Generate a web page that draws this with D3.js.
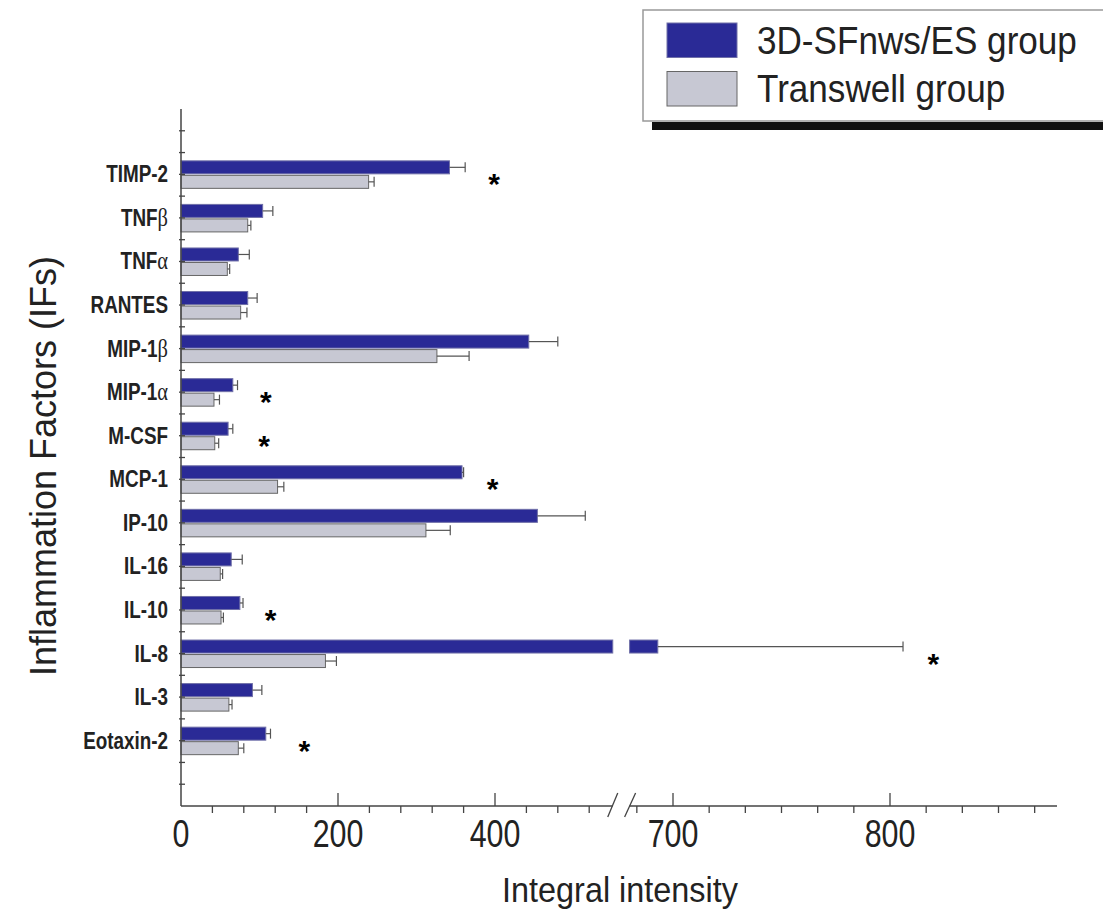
<!DOCTYPE html>
<html>
<head>
<meta charset="utf-8">
<script src="https://cdn.jsdelivr.net/npm/d3@7"></script>
<style>
  body { margin: 0; background: #fff; }
  svg { display: block; }
  .axis-line { stroke: #444; stroke-width: 1.5; fill: none; }
  .tick-mark { stroke: #444; stroke-width: 1.3; }
  .err { stroke: #555; stroke-width: 1.2; fill: none; }
</style>
</head>
<body>
<svg id="chart" width="1103" height="910"></svg>
<script>
var categories = ["TIMP-2", "TNFβ", "TNFα", "RANTES", "MIP-1β", "MIP-1α", "M-CSF",
  "MCP-1", "IP-10", "IL-16", "IL-10", "IL-8", "IL-3", "Eotaxin-2"];
var seriesNames = ["3D-SFnws/ES group", "Transwell group"];
var sfValues = [342, 104, 73, 85, 443, 66, 60, 358, 454, 64, 75, 693, 91, 108];
var sfErrors = [20, 13, 14, 12, 37, 6, 6, 2, 61, 14, 4, 113, 12, 6];
var twValues = [239, 85, 59, 76, 326, 42, 43, 123, 312, 50, 51, 184, 61, 73];
var twErrors = [7, 4, 3, 8, 41, 7, 5, 8, 31, 3, 3, 14, 4, 7];
var starCategories = ["TIMP-2", "MIP-1α", "M-CSF", "MCP-1", "IL-10", "IL-8", "Eotaxin-2"];
var starValues = [399, 108, 106, 397, 114, 820, 157];
var leftTicks = [0, 200, 400];
var rightTicks = [700, 800];

var colors = { sf: "#2a2a96", sfStroke: "#7070a8", tw: "#c7c8d3", twStroke: "#666" };
var sans = "'Liberation Sans', Arial, sans-serif";

// broken x axis: two linear pieces
var breakLeft = 550, breakRight = 680;
var xL = d3.scaleLinear().domain([0, 400]).range([181, 495]);
var xR = d3.scaleLinear().domain([700, 800]).range([673, 890]);
function xpos(v) { return v <= breakLeft ? xL(v) : xR(v); }

var axisY = 806, axisTop = 109, axisEndX = 1057;
var y = d3.scalePoint().domain(categories).range([axisTop, axisY]).padding(1.5);
var barH = 13;

var svg = d3.select("#chart");
var g = svg.append("g");

// condensed text: translate then squeeze horizontally
function squeezed(parent, x, yy, sx) {
  return parent.append("text")
    .attr("transform", "translate(" + x + "," + yy + ") scale(" + sx + ",1)");
}

// bars (with break on long ones)
function drawBars(values, errors, cls, fill, stroke, offset) {
  var sel = g.append("g").attr("class", cls);
  values.forEach(function(v, i) {
    var cy = y(categories[i]) + offset;
    var pieces = v > breakLeft ? [[0, breakLeft, xL], [breakRight, v, xR]] : [[0, v, xL]];
    pieces.forEach(function(p) {
      sel.append("rect")
        .attr("x", p[2](p[0]))
        .attr("y", cy)
        .attr("width", p[2](p[1]) - p[2](p[0]))
        .attr("height", barH)
        .attr("fill", fill)
        .attr("stroke", stroke)
        .attr("stroke-width", 1);
    });
    var x0 = xpos(v), x1 = xpos(v + errors[i]);
    var ym = cy + barH / 2;
    sel.append("line").attr("class", "err")
      .attr("x1", x0).attr("x2", x1).attr("y1", ym).attr("y2", ym);
    sel.append("line").attr("class", "err")
      .attr("x1", x1).attr("x2", x1).attr("y1", ym - 5).attr("y2", ym + 5);
  });
}
drawBars(sfValues, sfErrors, "sf", colors.sf, colors.sfStroke, -13.5);
drawBars(twValues, twErrors, "tw", colors.tw, colors.twStroke, 1);

// y axis
g.append("line").attr("class", "axis-line")
  .attr("x1", 181).attr("x2", 181).attr("y1", axisTop).attr("y2", axisY);
var halfStep = y.step() / 2;
d3.range(axisTop + halfStep, axisY - 1, halfStep).forEach(function(t) {
  g.append("line").attr("class", "tick-mark")
    .attr("x1", 179).attr("x2", 185).attr("y1", t).attr("y2", t);
});

// category labels, greek suffix set in serif
categories.forEach(function(c) {
  var m = c.match(/^(.*?)([α-ω]?)$/);
  var t = squeezed(g, 168, y(c) + 8, 0.82)
    .attr("text-anchor", "end")
    .style("font-family", sans)
    .style("font-weight", "bold")
    .style("font-size", "23px")
    .attr("fill", "#222");
  t.append("tspan").text(m[1]);
  if (m[2]) {
    t.append("tspan")
      .style("font-family", "'Liberation Serif', 'DejaVu Serif', serif")
      .style("font-weight", "normal")
      .style("font-size", "25px")
      .text(m[2]);
  }
});

// x axis pieces
var xa = g.append("g");
xa.append("line").attr("class", "axis-line")
  .attr("x1", 181).attr("x2", xL(breakLeft)).attr("y1", axisY).attr("y2", axisY);
xa.append("line").attr("class", "axis-line")
  .attr("x1", xR(breakRight)).attr("x2", axisEndX).attr("y1", axisY).attr("y2", axisY);
// break marks
[[xL(breakLeft) - 5, xL(breakLeft) + 5], [xR(breakRight) - 5, xR(breakRight) + 6]].forEach(function(s) {
  xa.append("line").attr("class", "tick-mark")
    .attr("x1", s[0]).attr("y1", axisY + 11).attr("x2", s[1]).attr("y2", axisY - 13);
});

var minorLeft = d3.range(40, 540, 40).filter(function(v) { return v % 200 !== 0; });
var minorRight = d3.range(-1, 11).map(function(k) { return 700 + k * 100 / 6; })
  .filter(function(v) { return v > breakRight && v < 875 && Math.abs(v - 700) > 1 && Math.abs(v - 800) > 1; });
minorLeft.map(xL).concat(minorRight.map(xR)).forEach(function(px) {
  xa.append("line").attr("class", "tick-mark")
    .attr("x1", px).attr("x2", px).attr("y1", axisY).attr("y2", axisY + 7);
});
leftTicks.filter(function(v) { return v > 0; }).map(xL)
  .concat(rightTicks.map(xR)).forEach(function(px) {
    xa.append("line").attr("class", "tick-mark")
      .attr("x1", px).attr("x2", px).attr("y1", axisY).attr("y2", axisY - 13);
  });

leftTicks.map(function(v) { return [v, xL(v)]; })
  .concat(rightTicks.map(function(v) { return [v, xR(v)]; }))
  .forEach(function(d) {
    squeezed(xa, d[1], 847, 0.8)
      .attr("text-anchor", "middle")
      .style("font-family", sans)
      .style("font-size", "38px")
      .attr("fill", "#222")
      .text(d[0]);
  });

// axis titles
squeezed(svg, 620, 902, 0.9)
  .attr("text-anchor", "middle")
  .style("font-family", sans)
  .style("font-size", "36px")
  .attr("fill", "#222")
  .text("Integral intensity");
svg.append("text")
  .attr("transform", "translate(56,466) rotate(-90)")
  .attr("text-anchor", "middle")
  .style("font-family", sans)
  .style("font-size", "36px")
  .attr("fill", "#222")
  .text("Inflammation Factors (IFs)");

// significance stars
starCategories.forEach(function(c, i) {
  svg.append("text")
    .attr("x", xpos(starValues[i]))
    .attr("y", y(c) + 20)
    .attr("text-anchor", "middle")
    .style("font-family", sans)
    .style("font-size", "30px")
    .style("font-weight", "bold")
    .attr("fill", "#000")
    .text("*");
});

// legend
var lg = svg.append("g");
lg.append("rect").attr("x", 652).attr("y", 122).attr("width", 460).attr("height", 8).attr("fill", "#111");
lg.append("rect").attr("x", 643).attr("y", 10).attr("width", 470).attr("height", 111)
  .attr("fill", "#fff").attr("stroke", "#999").attr("stroke-width", 1.5);
var legendFill = [[colors.sf, colors.sfStroke], [colors.tw, colors.twStroke]];
seriesNames.forEach(function(name, i) {
  lg.append("rect")
    .attr("x", 667).attr("y", 23 + i * 48.5)
    .attr("width", 70).attr("height", 34.5)
    .attr("fill", legendFill[i][0]).attr("stroke", legendFill[i][1]).attr("stroke-width", 1);
  squeezed(lg, 757, 54 + i * 47.5, 0.9)
    .style("font-family", sans)
    .style("font-size", "39px")
    .attr("fill", "#222")
    .text(name);
});
</script>
</body>
</html>
